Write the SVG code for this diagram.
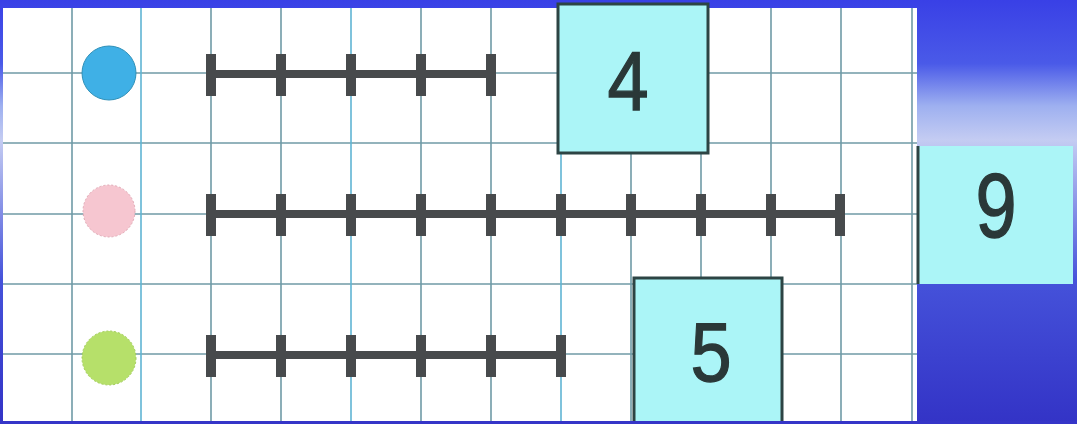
<svg xmlns="http://www.w3.org/2000/svg" width="1077" height="424" viewBox="0 0 1077 424">
<style>
.grid line{stroke:#6f9aa6;stroke-width:1.6}
.gridb line{stroke:#5fb4d4;stroke-width:1.6}
.bar{stroke:#474a4c;stroke-width:8;fill:none}
.tick{fill:#474a4c}
.box{fill:#abf5f7;stroke:#2d4444;stroke-width:3}
.num{font-family:"Liberation Sans",Arial,sans-serif;font-size:84px;fill:#2a3838;stroke:#2a3838;stroke-width:1.3;text-anchor:middle}
</style>
<defs>
<linearGradient id="bg" x1="0" y1="0" x2="0" y2="1">
<stop offset="0" stop-color="#3940e6"/>
<stop offset="0.15" stop-color="#4a5ae8"/>
<stop offset="0.25" stop-color="#9eb0f0"/>
<stop offset="0.33" stop-color="#c4ccf2"/>
<stop offset="0.66" stop-color="#4552da"/>
<stop offset="1" stop-color="#3333c6"/>
</linearGradient>
<g id="tk"><rect x="-5" y="-21" width="10" height="42"/></g>
</defs>
<rect width="1077" height="424" fill="url(#bg)"/>
<rect x="3" y="8" width="914" height="413" fill="#ffffff"/>
<g id="grid" class="grid">
<line x1="72" y1="8" x2="72" y2="421"/>
<line x1="211" y1="8" x2="211" y2="421"/>
<line x1="281" y1="8" x2="281" y2="421"/>
<line x1="421" y1="8" x2="421" y2="421"/>
<line x1="491" y1="8" x2="491" y2="421"/>
<line x1="631" y1="8" x2="631" y2="421"/>
<line x1="701" y1="8" x2="701" y2="421"/>
<line x1="771" y1="8" x2="771" y2="421"/>
<line x1="841" y1="8" x2="841" y2="421"/>
<line x1="912" y1="8" x2="912" y2="421"/>
<line x1="3" y1="73" x2="917" y2="73"/>
<line x1="3" y1="143" x2="917" y2="143"/>
<line x1="3" y1="214" x2="917" y2="214"/>
<line x1="3" y1="284" x2="917" y2="284"/>
<line x1="3" y1="354" x2="917" y2="354"/>
</g>
<g class="gridb">
<line x1="141" y1="8" x2="141" y2="421"/>
<line x1="351" y1="8" x2="351" y2="421"/>
<line x1="561" y1="8" x2="561" y2="421"/>
</g>
<g id="dot-blue"><circle cx="109" cy="73" r="27" fill="#3fb0e6" stroke="#2f90b8" stroke-width="1"/></g>
<g id="dot-pink"><circle cx="109" cy="211" r="26" fill="#f6c6d0" stroke="#e0a8b4" stroke-width="1" stroke-dasharray="2 2"/></g>
<g id="dot-green"><circle cx="109" cy="358" r="27" fill="#b6e06a" stroke="#a0cc58" stroke-width="1" stroke-dasharray="2 2"/></g>
<g id="bar-1" class="tick">
<line class="bar" x1="211" y1="74" x2="491" y2="74"/>
<use href="#tk" x="211" y="75"/><use href="#tk" x="281" y="75"/><use href="#tk" x="351" y="75"/><use href="#tk" x="421" y="75"/><use href="#tk" x="491" y="75"/>
</g>
<g id="bar-2" class="tick">
<line class="bar" x1="211" y1="214" x2="841" y2="214"/>
<use href="#tk" x="211" y="215"/><use href="#tk" x="281" y="215"/><use href="#tk" x="351" y="215"/><use href="#tk" x="421" y="215"/><use href="#tk" x="491" y="215"/><use href="#tk" x="561" y="215"/><use href="#tk" x="631" y="215"/><use href="#tk" x="701" y="215"/><use href="#tk" x="771" y="215"/><use href="#tk" x="840" y="215"/>
</g>
<g id="bar-3" class="tick">
<line class="bar" x1="211" y1="355" x2="561" y2="355"/>
<use href="#tk" x="211" y="356"/><use href="#tk" x="281" y="356"/><use href="#tk" x="351" y="356"/><use href="#tk" x="421" y="356"/><use href="#tk" x="491" y="356"/><use href="#tk" x="561" y="356"/>
</g>
<g id="box-4">
<rect class="box" x="558" y="4" width="150" height="149"/>
<text class="num" transform="translate(628,110) scale(0.88,1)">4</text>
</g>
<g id="box-9">
<rect x="918" y="146" width="155" height="138" fill="#abf5f7"/>
<line x1="918" y1="146" x2="918" y2="284" stroke="#2d4444" stroke-width="3"/>
<text class="num" transform="translate(996,237) scale(0.88,1.08)">9</text>
</g>
<g id="box-5">
<rect class="box" x="634" y="278" width="148" height="150"/>
<text class="num" transform="translate(711,381) scale(0.88,1)">5</text>
</g>
<rect x="0" y="421" width="1077" height="3" fill="#3535c8"/>
</svg>
